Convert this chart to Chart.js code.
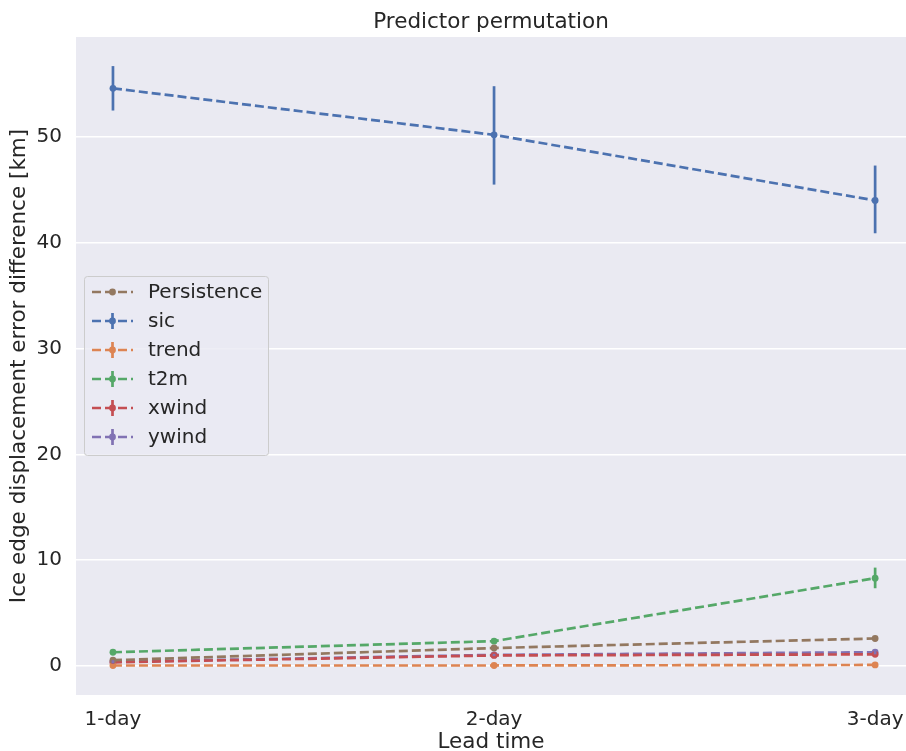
<!DOCTYPE html>
<html>
<head>
<meta charset="utf-8">
<script src="https://cdn.jsdelivr.net/npm/chart.js@4/dist/chart.umd.min.js"></script>
<style>
html,body{margin:0;padding:0;background:#fff;}
#wrap{width:906px;height:751px;}
</style>
</head>
<body>
<div id="wrap"><canvas id="c" width="906" height="751"></canvas></div>
<script>
const leadTimes = ["1-day", "2-day", "3-day"];
const seriesNames = ["Persistence", "sic", "trend", "t2m", "xwind", "ywind"];
const persistence = [0.55, 1.7, 2.6];
const sic = [54.6, 50.2, 44.0];
const sicLow = [52.5, 45.5, 40.9];
const sicHigh = [56.7, 54.8, 47.3];
const trend = [0.05, 0.05, 0.1];
const trendLow = [0.0, 0.0, 0.0];
const trendHigh = [0.1, 0.1, 0.2];
const t2m = [1.3, 2.35, 8.3];
const t2mLow = [1.15, 2.2, 7.35];
const t2mHigh = [1.45, 2.5, 9.3];
const xwind = [0.35, 1.0, 1.1];
const xwindLow = [0.2, 0.9, 0.9];
const xwindHigh = [0.5, 1.1, 1.3];
const ywind = [0.4, 1.05, 1.3];
const ywindLow = [0.25, 0.95, 1.1];
const ywindHigh = [0.55, 1.15, 1.5];
const yTicks = [0, 10, 20, 30, 40, 50];

const colors = {
  Persistence: "#937860", sic: "#4C72B0", trend: "#DD8452",
  t2m: "#55A868", xwind: "#C44E52", ywind: "#8172B3"
};
const FONT = "'DejaVu Sans', sans-serif";
const TXT = "#262626";
const LW = 2.7;
const DASH = [9, 4];

function pts(vals){ return vals.map((v,i)=>({x:i, y:v})); }
function mk(name, vals, lo, hi){
  return {
    label: name, data: pts(vals), errLow: lo, errHigh: hi,
    borderColor: colors[name], backgroundColor: colors[name],
    borderWidth: LW, borderDash: DASH, pointRadius: 3.4,
    pointBorderWidth: 0, pointHoverRadius: 3.4, tension: 0, fill: false
  };
}
const datasets = [
  mk("Persistence", persistence, null, null),
  mk("sic", sic, sicLow, sicHigh),
  mk("trend", trend, trendLow, trendHigh),
  mk("t2m", t2m, t2mLow, t2mHigh),
  mk("xwind", xwind, xwindLow, xwindHigh),
  mk("ywind", ywind, ywindLow, ywindHigh)
];

const bgPlugin = {
  id: "bg",
  beforeDraw(chart){
    const {ctx, chartArea:a} = chart;
    ctx.save();
    ctx.fillStyle = "#EAEAF2";
    ctx.fillRect(a.left, a.top, a.right-a.left, a.bottom-a.top);
    ctx.restore();
  }
};
const errPlugin = {
  id: "err",
  afterDatasetsDraw(chart){
    const {ctx, scales:{x, y}} = chart;
    ctx.save();
    chart.data.datasets.forEach(ds => {
      if(!ds.errLow) return;
      ctx.strokeStyle = ds.borderColor;
      ctx.lineWidth = LW;
      ds.data.forEach((p,i) => {
        const px = x.getPixelForValue(p.x);
        ctx.beginPath();
        ctx.moveTo(px, y.getPixelForValue(ds.errLow[i]));
        ctx.lineTo(px, y.getPixelForValue(ds.errHigh[i]));
        ctx.stroke();
      });
    });
    ctx.restore();
  }
};
const legendPlugin = {
  id: "leg",
  afterDraw(chart){
    const {ctx, chartArea:a} = chart;
    ctx.save();
    const bx = a.left + 8.5, by = 276.5, bw = 184, bh = 179;
    ctx.fillStyle = "rgba(234,234,242,0.8)";
    ctx.strokeStyle = "#cccccc";
    ctx.lineWidth = 1;
    ctx.beginPath();
    if (ctx.roundRect) ctx.roundRect(bx, by, bw, bh, 3); else ctx.rect(bx, by, bw, bh);
    ctx.fill(); ctx.stroke();
    ctx.font = "20px " + FONT;
    ctx.textBaseline = "middle";
    chart.data.datasets.forEach((ds, i) => {
      const yy = 292 + i*29;
      ctx.strokeStyle = ds.borderColor;
      ctx.fillStyle = ds.borderColor;
      ctx.lineWidth = LW;
      ctx.setLineDash(DASH);
      ctx.beginPath(); ctx.moveTo(92, yy); ctx.lineTo(133, yy); ctx.stroke();
      ctx.setLineDash([]);
      if (ds.errLow){
        ctx.beginPath(); ctx.moveTo(112.5, yy-8); ctx.lineTo(112.5, yy+8); ctx.stroke();
      }
      ctx.beginPath(); ctx.arc(112.5, yy, 3.4, 0, Math.PI*2); ctx.fill();
      ctx.fillStyle = TXT;
      ctx.textAlign = "left";
      ctx.fillText(ds.label, 148, yy+1);
    });
    ctx.restore();
  }
};
const titlePlugin = {
  id: "ttl",
  afterDraw(chart){
    const {ctx, chartArea:a} = chart;
    ctx.save();
    ctx.font = "21.5px " + FONT;
    ctx.fillStyle = TXT;
    ctx.textAlign = "center";
    ctx.textBaseline = "middle";
    ctx.fillText("Predictor permutation", (a.left+a.right)/2, 22);
    ctx.restore();
  }
};

new Chart(document.getElementById("c"), {
  type: "line",
  data: { datasets },
  plugins: [bgPlugin, errPlugin, legendPlugin, titlePlugin],
  options: {
    responsive: false, animation: false,
    layout: { autoPadding: false, padding: { top: 37, right: 0, left: 0, bottom: 0 } },
    plugins: { legend: { display: false }, title: { display: false }, tooltip: { enabled: false } },
    scales: {
      x: {
        type: "linear", min: -0.097, max: 2.081,
        afterBuildTicks(s){ s.ticks = leadTimes.map((_,i)=>({value:i})); },
        afterFit(s){ s.height = 56; s.paddingLeft = 0; s.paddingRight = 0; },
        grid: { display: false, drawTicks: false },
        border: { display: false },
        ticks: { callback: v => leadTimes[v], color: TXT, font: { family: FONT, size: 20 }, padding: 13, maxRotation: 0 },
        title: { display: true, text: "Lead time", color: TXT, font: { family: FONT, size: 21.5, lineHeight: 0.8 }, padding: { top: 0, bottom: 0 } }
      },
      y: {
        type: "linear", min: -2.74, max: 59.45,
        afterBuildTicks(s){ s.ticks = yTicks.map(v=>({value:v})); },
        afterFit(s){ s.width = 76; s.paddingTop = 0; s.paddingBottom = 0; },
        grid: { color: "#ffffff", lineWidth: 1.5, drawTicks: false },
        border: { display: false },
        ticks: { color: TXT, font: { family: FONT, size: 20 }, padding: 14 },
        title: { display: true, text: "Ice edge displacement error difference [km]", color: TXT, font: { family: FONT, size: 21.5, lineHeight: 1.0 }, padding: { top: 9, bottom: 0 } }
      }
    }
  }
});
</script>
</body>
</html>
